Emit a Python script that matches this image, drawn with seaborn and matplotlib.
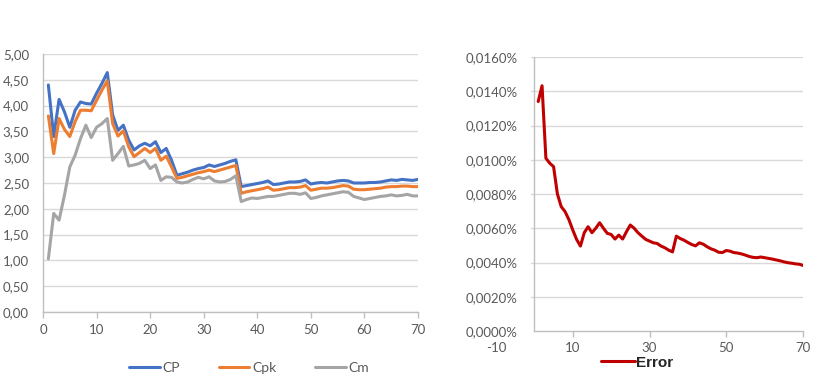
import numpy as np
import pandas as pd
import seaborn as sns
import matplotlib.pyplot as plt
import matplotlib.ticker as ticker

# sample index 1..70
samples = list(range(1, 71))

cp = [4.40, 3.40, 4.12, 3.88, 3.58, 3.91, 4.07, 4.04, 4.03, 4.24,
      4.43, 4.64, 3.82, 3.52, 3.62, 3.33, 3.14, 3.22, 3.27, 3.22,
      3.30, 3.09, 3.17, 2.94, 2.65, 2.68, 2.71, 2.75, 2.78, 2.80,
      2.85, 2.82, 2.85, 2.88, 2.92, 2.95, 2.43, 2.45, 2.47, 2.49,
      2.51, 2.54, 2.47, 2.48, 2.50, 2.52, 2.52, 2.53, 2.56, 2.48,
      2.50, 2.51, 2.50, 2.52, 2.54, 2.55, 2.54, 2.50, 2.50, 2.50,
      2.51, 2.51, 2.52, 2.54, 2.56, 2.55, 2.57, 2.56, 2.55, 2.57]

cpk = [3.80, 3.07, 3.75, 3.54, 3.40, 3.69, 3.91, 3.91, 3.90, 4.10,
       4.30, 4.48, 3.65, 3.41, 3.51, 3.20, 3.01, 3.09, 3.17, 3.09,
       3.17, 2.94, 3.02, 2.81, 2.59, 2.61, 2.64, 2.67, 2.70, 2.72,
       2.75, 2.72, 2.75, 2.78, 2.81, 2.84, 2.30, 2.33, 2.35, 2.37,
       2.39, 2.42, 2.36, 2.37, 2.39, 2.41, 2.41, 2.42, 2.45, 2.36,
       2.38, 2.40, 2.40, 2.41, 2.43, 2.45, 2.44, 2.38, 2.37, 2.37,
       2.38, 2.39, 2.40, 2.42, 2.43, 2.43, 2.44, 2.44, 2.43, 2.43]

cm = [1.03, 1.91, 1.78, 2.26, 2.81, 3.04, 3.36, 3.62, 3.38, 3.58,
      3.65, 3.75, 2.94, 3.07, 3.21, 2.83, 2.85, 2.88, 2.94, 2.78,
      2.85, 2.55, 2.62, 2.61, 2.52, 2.50, 2.52, 2.57, 2.61, 2.58,
      2.62, 2.54, 2.52, 2.53, 2.57, 2.64, 2.14, 2.18, 2.21, 2.20,
      2.22, 2.24, 2.24, 2.26, 2.28, 2.30, 2.30, 2.28, 2.31, 2.20,
      2.22, 2.25, 2.27, 2.29, 2.31, 2.33, 2.32, 2.24, 2.21, 2.18,
      2.20, 2.22, 2.24, 2.25, 2.27, 2.25, 2.26, 2.28, 2.25, 2.25]

# error in percent
error = [0.01340, 0.01432, 0.01009, 0.00980, 0.00960, 0.00800, 0.00726, 0.00697, 0.00650, 0.00590,
         0.00535, 0.00496, 0.00574, 0.00609, 0.00574, 0.00600, 0.00632, 0.00600, 0.00570, 0.00564,
         0.00537, 0.00560, 0.00537, 0.00580, 0.00619, 0.00600, 0.00574, 0.00554, 0.00535, 0.00525,
         0.00515, 0.00511, 0.00496, 0.00486, 0.00472, 0.00462, 0.00554, 0.00540, 0.00530, 0.00517,
         0.00505, 0.00497, 0.00515, 0.00507, 0.00492, 0.00480, 0.00472, 0.00460, 0.00458, 0.00470,
         0.00466, 0.00458, 0.00455, 0.00450, 0.00443, 0.00435, 0.00430, 0.00428, 0.00432, 0.00428,
         0.00424, 0.00420, 0.00415, 0.00410, 0.00404, 0.00399, 0.00396, 0.00392, 0.00390, 0.00383]

series_names = ["CP", "Cpk", "Cm"]
colors = ["#4472C4", "#ED7D31", "#A5A5A5"]
left_yticks = [0, 0.5, 1, 1.5, 2, 2.5, 3, 3.5, 4, 4.5, 5]
right_yticks = [0, 0.002, 0.004, 0.006, 0.008, 0.010, 0.012, 0.014, 0.016]
right_xticks = [-10, 10, 30, 50, 70]

df = pd.DataFrame({"x": samples * 3,
                   "value": cp + cpk + cm,
                   "serie": [n for n in series_names for _ in samples]})
df_err = pd.DataFrame({"x": samples, "Error": error})

sns.set_theme(style="white")
plt.rcParams['font.family'] = ['Lato', 'DejaVu Sans']
plt.rcParams['axes.unicode_minus'] = False
txt = "#595959"
grid = "#D9D9D9"
axc = "#BFBFBF"

fig = plt.figure(figsize=(8.26, 3.86), dpi=100)

# ---- left chart
ax1 = fig.add_axes([43 / 826, 1 - 312 / 386, 375 / 826, 258 / 386])
sns.lineplot(data=df, x="x", y="value", hue="serie", palette=colors,
             linewidth=2.2, ax=ax1)
ax1.set_xlim(0, 70)
ax1.set_ylim(0, 5)
ax1.set_yticks(left_yticks)
ax1.set_xticks(range(0, 71, 10))
ax1.yaxis.set_major_formatter(ticker.FuncFormatter(lambda v, p: f"{v:.2f}".replace(".", ",")))
ax1.grid(axis="y", color=grid, linewidth=1)
ax1.set_axisbelow(True)
for s in ["top", "right"]:
    ax1.spines[s].set_visible(False)
for s in ["left", "bottom"]:
    ax1.spines[s].set_color(axc)
    ax1.spines[s].set_linewidth(1)
ax1.tick_params(axis="y", length=0, pad=10, labelsize=9.5, labelcolor=txt)
ax1.tick_params(axis="x", length=4, width=1, color=axc, pad=5, labelsize=9.5,
                labelcolor=txt, bottom=True, direction="out")
ax1.set_xlabel("")
ax1.set_ylabel("")
sns.move_legend(ax1, "center", bbox_to_anchor=(0.55, -0.217), ncol=3, frameon=False,
                title=None, handlelength=2.2, handletextpad=0.2, columnspacing=2.8,
                fontsize=10)
for t in ax1.get_legend().get_texts():
    t.set_color(txt)

# ---- right chart
ax2 = fig.add_axes([496 / 826, 1 - 331 / 386, 307 / 826, 274 / 386])
sns.lineplot(data=df_err, x="x", y="Error", color="#C00000", linewidth=2.2,
             label="Error", ax=ax2)
ax2.set_xlim(-10, 70)
ax2.set_ylim(0, 0.016)
ax2.set_yticks(right_yticks)
ax2.set_xticks(right_xticks)
ax2.yaxis.set_major_formatter(ticker.FuncFormatter(lambda v, p: f"{v:.4f}%".replace(".", ",")))
for yv in right_yticks[1:]:
    ax2.axhline(yv, xmin=0.115, xmax=1, color=grid, linewidth=1, zorder=0)
for s in ["top", "right"]:
    ax2.spines[s].set_visible(False)
ax2.spines["left"].set_position(("data", 0))
ax2.spines["bottom"].set_bounds(0, 70)
for s in ["left", "bottom"]:
    ax2.spines[s].set_color(axc)
    ax2.spines[s].set_linewidth(1)
ax2.tick_params(axis="y", length=0, pad=12, labelsize=9.5, labelcolor=txt)
ax2.tick_params(axis="x", length=4, width=1, color=axc, pad=4, labelsize=9.5,
                labelcolor=txt, bottom=True, direction="out")
ax2.xaxis.get_major_ticks()[0].tick1line.set_visible(False)
ax2.set_xlabel("")
ax2.set_ylabel("")
leg = ax2.legend(loc="center", bbox_to_anchor=(0.46, -0.115), frameon=False,
                 handlelength=2.2, handletextpad=0.1,
                 prop={"family": "Liberation Sans", "weight": "bold", "size": 11})

fig.savefig("out.png", dpi=100)
